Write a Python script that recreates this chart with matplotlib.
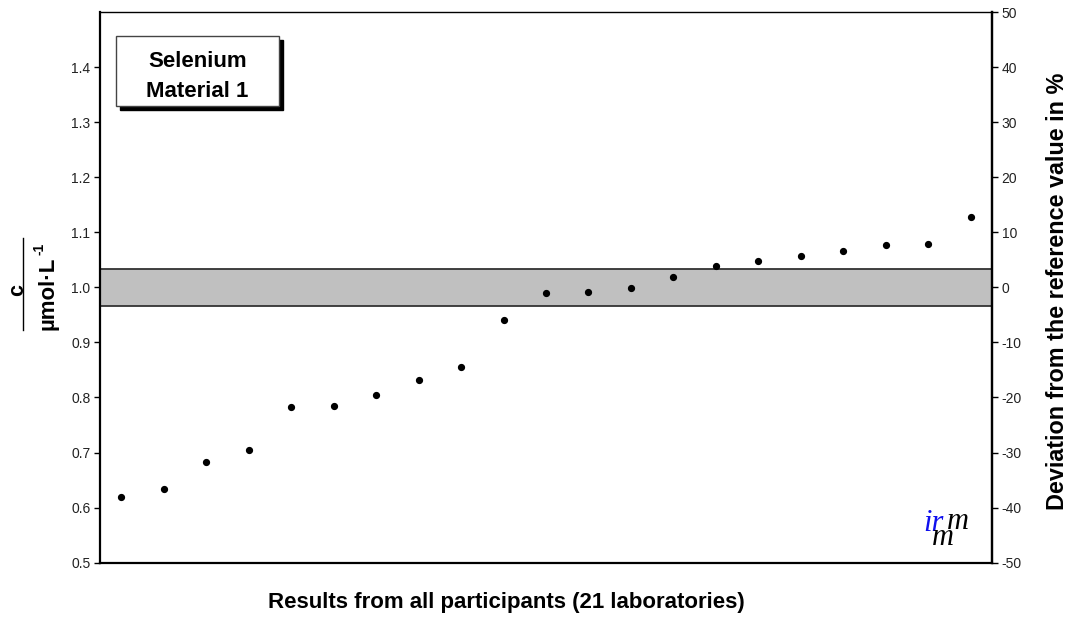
import matplotlib
matplotlib.use("Agg")
import matplotlib.pyplot as plt
from matplotlib.patches import Rectangle
from matplotlib.lines import Line2D

plt.rcParams['font.family'] = ['Liberation Sans', 'DejaVu Sans']

# Data
values = [0.619, 0.633, 0.682, 0.705, 0.783, 0.785, 0.805, 0.832, 0.856, 0.940,
          0.989, 0.992, 0.999, 1.018, 1.038, 1.048, 1.057, 1.066, 1.077, 1.078, 1.128]
ref_value = 1.0
band_low = 0.9657
band_high = 1.0337
left_ticks = [0.5, 0.6, 0.7, 0.8, 0.9, 1.0, 1.1, 1.2, 1.3, 1.4]
right_ticks = [-50, -40, -30, -20, -10, 0, 10, 20, 30, 40, 50]

W, H = 1071, 621
fig = plt.figure(figsize=(W / 100, H / 100), dpi=100)
ax = fig.add_axes([100 / W, 1 - 562.7 / H, (992 - 100) / W, (562.7 - 12) / H])

def fx(px):
    return px / W

def fy(py):
    return 1 - py / H

n = len(values)
xs = [i + 0.5 for i in range(n)]
ax.axhspan(band_low, band_high, facecolor='#c0c0c0', edgecolor='none', zorder=1)
ax.axhline(band_low, color='#333333', lw=1.3, zorder=2)
ax.axhline(band_high, color='#333333', lw=1.3, zorder=2)
ax.plot(xs, values, 'o', color='black', markersize=4.2, zorder=3)

ax.set_xlim(0, n)
ax.set_ylim(0.5, 1.5)
ax.set_xticks([])
ax.set_yticks(left_ticks)
ax.set_yticklabels([f"{t:.1f}" for t in left_ticks], fontsize=10, color='#222222')
ax.tick_params(axis='y', direction='out', length=4, width=1, pad=3)
for s in ['left', 'bottom']:
    ax.spines[s].set_linewidth(1.6)
ax.spines['top'].set_linewidth(1.0)
ax.spines['right'].set_linewidth(1.6)

ax2 = ax.twinx()
ax2.set_ylim(-50, 50)
ax2.set_yticks(right_ticks)
ax2.set_yticklabels([str(t) for t in right_ticks], fontsize=10, color='#222222')
ax2.tick_params(axis='y', direction='out', length=4, width=1, pad=3)
ax2.spines['right'].set_linewidth(1.6)
ax2.spines['top'].set_visible(False)
ax2.spines['left'].set_visible(False)
ax2.spines['bottom'].set_visible(False)

# x label
fig.text(fx(506), fy(608), 'Results from all participants (21 laboratories)', fontsize=16,
         fontweight='bold', ha='center', va='baseline')
# right label
fig.text(fx(1057), fy(291), 'Deviation from the reference value in %',
         rotation=90, fontsize=16.8, fontweight='bold', ha='center', va='center')

# left fraction label
fig.text(fx(18), fy(290), 'c', rotation=90, fontsize=15.5, fontweight='bold',
         ha='center', va='center')
fig.add_artist(Line2D([fx(22.7), fx(22.7)], [fy(238), fy(330)],
                      color='black', lw=1.0, transform=fig.transFigure))
fig.text(fx(48), fy(293), 'µmol·L', rotation=90, fontsize=16,
         fontweight='bold', ha='center', va='center')
fig.text(fx(40), fy(249), '-1', rotation=90, fontsize=10,
         fontweight='bold', ha='center', va='center')

# title box with shadow
bx0, by0, bx1, by1 = 115.7, 35.7, 279.0, 106.0
sh = 4
fig.add_artist(Rectangle((fx(bx0 + sh), fy(by1 + sh)), (bx1 - bx0) / W, (by1 - by0) / H,
                         facecolor='black', edgecolor='black', transform=fig.transFigure, zorder=5))
fig.add_artist(Rectangle((fx(bx0), fy(by1)), (bx1 - bx0) / W, (by1 - by0) / H,
                         facecolor='white', edgecolor='#444444', lw=1.0,
                         transform=fig.transFigure, zorder=6))
fig.text(fx((bx0 + bx1) / 2), fy(66.7), 'Selenium', fontsize=16, fontweight='bold',
         ha='center', va='baseline', zorder=7)
fig.text(fx((bx0 + bx1) / 2), fy(96.7), 'Material 1', fontsize=16, fontweight='bold',
         ha='center', va='baseline', zorder=7)

# logo
logo_font = ['Liberation Serif', 'DejaVu Serif']
fig.text(fx(933), fy(531), 'ir', fontsize=22, family=logo_font, style='italic',
         color='#1010ee', ha='center', va='baseline', zorder=7)
fig.text(fx(958), fy(529), 'm', fontsize=22, family=logo_font, style='italic',
         color='black', ha='center', va='baseline', zorder=7)
fig.text(fx(943), fy(545), 'm', fontsize=22, family=logo_font, style='italic',
         color='black', ha='center', va='baseline', zorder=7)

fig.savefig('out.png', dpi=100)
